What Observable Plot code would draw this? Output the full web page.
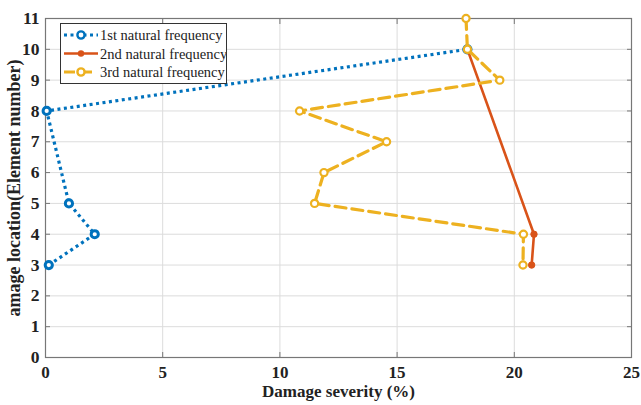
<!DOCTYPE html>
<html><head><meta charset="utf-8">
<script src="https://cdn.jsdelivr.net/npm/d3@7"></script>
<script src="https://cdn.jsdelivr.net/npm/@observablehq/plot@0.6"></script>
<style>
body{margin:0;background:#fff;}
#wrap{position:relative;width:641px;height:405px;overflow:hidden;}
#legend{position:absolute;left:60px;top:23px;width:167px;height:61px;box-sizing:border-box;border:1px solid #333;background:#fff;font-family:"Liberation Serif",serif;font-size:14.5px;}
</style>
</head><body>
<div id="wrap"></div>
<script>
const seriesNames = ["1st natural frequency","2nd natural frequency","3rd natural frequency"];
const s1Severity = [0.14, 2.1, 1.0, 0.05, 18.0];
const s1Element  = [3, 4, 5, 8, 10];
const s2Severity = [18.0, 20.84, 20.74];
const s2Element  = [10, 4, 3];
const s3Severity = [17.94, 18.0, 19.38, 10.84, 14.55, 11.88, 11.48, 20.39, 20.37];
const s3Element  = [11, 10, 9, 8, 7, 6, 5, 4, 3];
const xTicks = [0, 5, 10, 15, 20, 25];
const yTicks = [0,1,2,3,4,5,6,7,8,9,10,11];
const colors = ["#0072BD","#D95319","#EDB120"];

const mk = (xs, ys) => xs.map((x,i)=>({x, y: ys[i]}));
const d1 = mk(s1Severity, s1Element), d2 = mk(s2Severity, s2Element), d3 = mk(s3Severity, s3Element);

const chart = Plot.plot({
  width: 641, height: 405,
  marginLeft: 45, marginRight: 10, marginTop: 18, marginBottom: 48,
  style: {fontFamily:"Liberation Serif, serif", fontSize:"17px", fontWeight:"bold", color:"#222", background:"#fff"},
  x: {domain:[0,25], ticks: xTicks, label: null},
  y: {domain:[0,11], ticks: yTicks, label: null},
  marks: [
    Plot.gridX(xTicks, {stroke:"#dcdcdc", strokeOpacity:1, strokeWidth:1}),
    Plot.gridY(yTicks, {stroke:"#dcdcdc", strokeOpacity:1, strokeWidth:1}),
    Plot.frame({stroke:"#777", strokeWidth:1.2}),
    Plot.axisX(xTicks, {anchor:"bottom", tickSize:-5, tickPadding:13, stroke:"#777", fontSize:17, fontWeight:"bold", fill:"#222"}),
    Plot.axisX(xTicks, {anchor:"top", tickSize:-5, tickFormat:()=>"", stroke:"#777"}),
    Plot.axisY(yTicks, {anchor:"left", tickSize:-5, tickPadding:11, stroke:"#777", fontSize:17.5, fontWeight:"bold", fill:"#222"}),
    Plot.axisY(yTicks, {anchor:"right", tickSize:-5, tickFormat:()=>"", stroke:"#777"}),
    Plot.line(d1, {x:"x", y:"y", stroke:colors[0], strokeWidth:3.2, strokeDasharray:"3,3.5", strokeLinecap:"butt"}),
    Plot.dot(d1, {x:"x", y:"y", r:3.6, stroke:colors[0], strokeWidth:3, fill:"#fff"}),
    Plot.line(d2, {x:"x", y:"y", stroke:colors[1], strokeWidth:2.6}),
    Plot.dot(d2, {x:"x", y:"y", r:3.2, fill:colors[1], stroke:colors[1], strokeWidth:1}),
    Plot.line(d3, {x:"x", y:"y", stroke:colors[2], strokeWidth:3.2, strokeDasharray:"11,6"}),
    Plot.dot(d3, {x:"x", y:"y", r:3.6, stroke:colors[2], strokeWidth:2.2, fill:"#fff"}),
    Plot.text(["Damage severity (%)"], {frameAnchor:"bottom", dy:39.5, fontSize:17, fontWeight:"bold", fill:"#222"}),
    Plot.text(["amage location(Element number)"], {frameAnchor:"left", textAnchor:"middle", dx:-31, rotate:-90, fontSize:18, fontWeight:"bold", fill:"#222"})
  ]
});
const wrap = document.getElementById("wrap");
wrap.appendChild(chart);

// legend overlay
const leg = document.createElement("div");
leg.id = "legend";
const dashes = ["3,3.5", null, "11,6"];
let html = '<svg width="165" height="59" style="position:absolute;left:0;top:0">';
seriesNames.forEach((n,i)=>{
  const y = 11 + i*18.5;
  html += `<line x1="3" x2="37" y1="${y}" y2="${y}" stroke="${colors[i]}" stroke-width="${i===1?2.6:3.2}" ${dashes[i]?`stroke-dasharray="${dashes[i]}"`:""}/>`;
  if (i===1) html += `<circle cx="20" cy="${y}" r="3.2" fill="${colors[i]}"/>`;
  else html += `<circle cx="20" cy="${y}" r="3.6" fill="#fff" stroke="${colors[i]}" stroke-width="2.4"/>`;
  html += `<text x="39" y="${y+5}" font-family="Liberation Serif, serif" font-size="14.5" fill="#222">${n}</text>`;
});
html += '</svg>';
leg.innerHTML = html;
wrap.appendChild(leg);
</script>
</body></html>
